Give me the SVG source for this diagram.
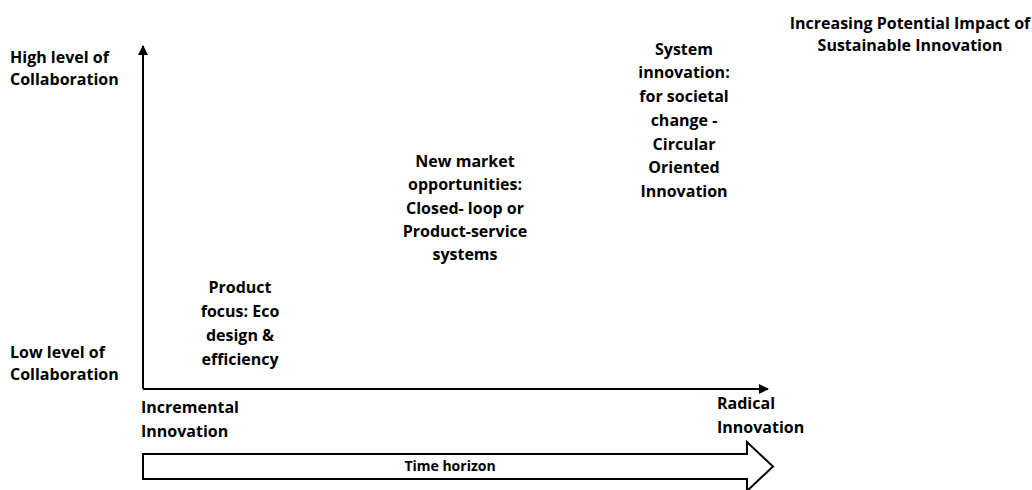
<svg xmlns="http://www.w3.org/2000/svg" width="1032" height="490" viewBox="0 0 1032 490">
<style>
text{font-family:"Open Sans","Liberation Sans",sans-serif;font-weight:bold;font-size:16px;fill:#000}
.c{text-anchor:middle}
.s{font-size:14px}
.ax{stroke:#000;stroke-width:2;fill:none}
</style>
<defs>
<marker id="ah" viewBox="0 0 10 10" refX="9" refY="5" markerWidth="5" markerHeight="5" orient="auto" markerUnits="strokeWidth">
<path d="M0,0 L10,5 L0,10 Z" fill="#000"/>
</marker>
</defs>
<rect width="1032" height="490" fill="#fff"/>
<g id="connectors">
<path class="ax" d="M143,389 L143,46" marker-end="url(#ah)"/>
<path class="ax" d="M143,389 L768,389" marker-end="url(#ah)"/>
</g>
<g id="time-horizon">
<path d="M143,454 L747,454 L747,442 L773,466.5 L747,491 L747,479 L143,479 Z" fill="#fff" stroke="#000" stroke-width="2"/>
<text class="c s" x="450" y="471">Time horizon</text>
</g>
<g id="high-collab">
<text x="10" y="63">High level of</text>
<text x="10" y="85">Collaboration</text>
</g>
<g id="low-collab">
<text x="10" y="358">Low level of</text>
<text x="10" y="380">Collaboration</text>
</g>
<g id="incremental">
<text x="141" y="413">Incremental</text>
<text x="141" y="437">Innovation</text>
</g>
<g id="radical">
<text x="717" y="409">Radical</text>
<text x="717" y="433">Innovation</text>
</g>
<g id="impact">
<text class="c" x="910" y="29">Increasing Potential Impact of</text>
<text class="c" x="910" y="51">Sustainable Innovation</text>
</g>
<g id="product-focus">
<text class="c" x="240" y="293">Product</text>
<text class="c" x="240" y="317">focus: Eco</text>
<text class="c" x="240" y="341">design &amp;</text>
<text class="c" x="240" y="365">efficiency</text>
</g>
<g id="new-market">
<text class="c" x="465" y="167">New market</text>
<text class="c" x="465" y="190">opportunities:</text>
<text class="c" x="465" y="214">Closed- loop or</text>
<text class="c" x="465" y="237">Product-service</text>
<text class="c" x="465" y="260">systems</text>
</g>
<g id="system-innovation">
<text class="c" x="684" y="55">System</text>
<text class="c" x="684" y="78">innovation:</text>
<text class="c" x="684" y="102">for societal</text>
<text class="c" x="684" y="126">change -</text>
<text class="c" x="684" y="150">Circular</text>
<text class="c" x="684" y="173">Oriented</text>
<text class="c" x="684" y="197">Innovation</text>
</g>
</svg>
